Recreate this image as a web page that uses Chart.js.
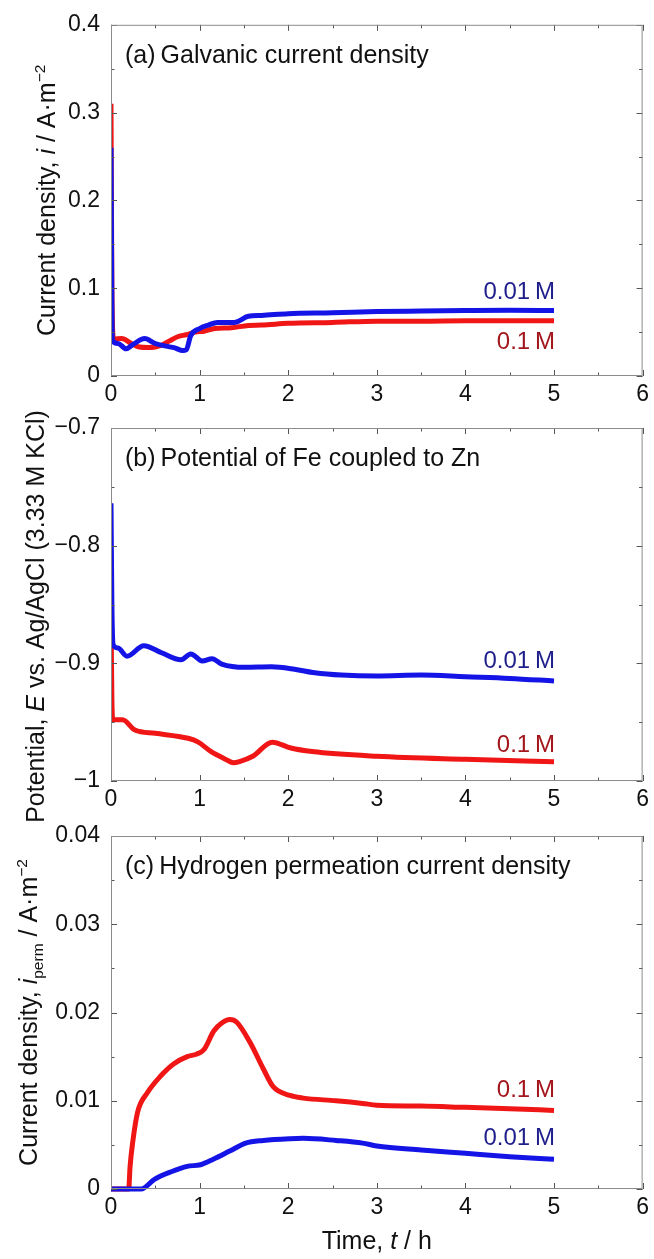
<!DOCTYPE html>
<html>
<head>
<meta charset="utf-8">
<script src="https://cdn.jsdelivr.net/npm/chart.js@4.4.0/dist/chart.umd.min.js"></script>
<style>
  html, body { margin: 0; padding: 0; background: #fff; }
  #wrap { position: relative; width: 654px; height: 1259px; }
  #wrap canvas { position: absolute; left: 0; top: 0; }
</style>
</head>
<body>
<div id="wrap">
  <canvas id="chartA" width="654" height="1259"></canvas>
  <canvas id="chartB" width="654" height="1259"></canvas>
  <canvas id="chartC" width="654" height="1259"></canvas>
</div>
<script>
// x axis (time, h)
const xTicks = [0, 1, 2, 3, 4, 5, 6];
const xTickLabels = ['0', '1', '2', '3', '4', '5', '6'];

// (a) galvanic current density, A/m2
const yTicksA = [0, 0.1, 0.2, 0.3, 0.4];
const yTickLabelsA = ['0', '0.1', '0.2', '0.3', '0.4'];
const tA01 = [0, 0.01, 0.02, 0.08, 0.17, 0.25, 0.38, 0.5, 0.62, 0.72, 0.81, 0.85, 0.9, 1.0, 1.1, 1.2, 1.39, 1.55, 1.7, 2.0, 2.5, 3.0, 3.5, 4.0, 4.5, 5.0];
const iA01 = [0.26, 0.08, 0.04, 0.037, 0.031, 0.036, 0.0426, 0.037, 0.034, 0.032, 0.029, 0.030, 0.046, 0.054, 0.058, 0.061, 0.061, 0.068, 0.069, 0.071, 0.072, 0.0734, 0.074, 0.0745, 0.0748, 0.0746];
const tA1 = [0, 0.01, 0.03, 0.12, 0.23, 0.32, 0.42, 0.5, 0.57, 0.66, 0.76, 0.85, 0.95, 1.05, 1.17, 1.36, 1.55, 1.7, 2.0, 2.5, 3.0, 3.5, 4.0, 4.5, 5.0];
const iA1 = [0.31, 0.1, 0.042, 0.0426, 0.037, 0.033, 0.0324, 0.033, 0.035, 0.040, 0.045, 0.047, 0.050, 0.051, 0.054, 0.055, 0.0576, 0.058, 0.060, 0.061, 0.0625, 0.0625, 0.063, 0.0628, 0.063];

// (b) potential of Fe coupled to Zn, V vs Ag/AgCl
const yTicksB = [-1, -0.9, -0.8, -0.7];
const yTickLabelsB = ['\u22121', '\u22120.9', '\u22120.8', '\u22120.7'];
const tB01 = [0, 0.01, 0.026, 0.08, 0.18, 0.37, 0.57, 0.79, 0.9, 1.03, 1.14, 1.25, 1.51, 1.81, 2.07, 2.3, 2.6, 3.0, 3.5, 4.0, 4.5, 5.0];
const eB01 = [-0.764, -0.85, -0.8845, -0.887, -0.894, -0.885, -0.891, -0.897, -0.892, -0.898, -0.896, -0.9006, -0.9034, -0.903, -0.905, -0.908, -0.910, -0.9108, -0.910, -0.9114, -0.9128, -0.915];
const tB1 = [0, 0.01, 0.02, 0.13, 0.27, 0.5, 0.87, 0.98, 1.13, 1.28, 1.38, 1.45, 1.6, 1.82, 2.03, 2.27, 3.0, 4.0, 5.0];
const eB1 = [-0.8575, -0.93, -0.948, -0.948, -0.9567, -0.9595, -0.9637, -0.9667, -0.975, -0.981, -0.9845, -0.9835, -0.979, -0.967, -0.972, -0.975, -0.979, -0.9816, -0.9836];

// (c) hydrogen permeation current density, A/m2
const yTicksC = [0, 0.01, 0.02, 0.03, 0.04];
const yTickLabelsC = ['0', '0.01', '0.02', '0.03', '0.04'];
const tC01 = [0, 0.2, 0.34, 0.49, 0.68, 0.86, 1.01, 1.16, 1.34, 1.52, 1.72, 2.02, 2.17, 2.54, 2.84, 3.0, 3.5, 4.0, 4.5, 5.0];
const iC01 = [0, 0, 0, 0.0011, 0.00196, 0.00257, 0.00275, 0.0034, 0.0043, 0.0052, 0.0055, 0.0057, 0.00574, 0.0055, 0.0052, 0.00487, 0.00442, 0.00404, 0.00366, 0.00336];
const tC1 = [0, 0.2, 0.215, 0.245, 0.3, 0.41, 0.56, 0.71, 0.86, 0.97, 1.05, 1.16, 1.25, 1.34, 1.42, 1.57, 1.72, 1.83, 2.02, 2.17, 2.54, 2.84, 3.0, 3.5, 4.0, 4.5, 5.0];
const iC1 = [0, 0, 0.0025, 0.0053, 0.0087, 0.0109, 0.0128, 0.0142, 0.0150, 0.0153, 0.0158, 0.0179, 0.0188, 0.0192, 0.0189, 0.0166, 0.0136, 0.0116, 0.0106, 0.0103, 0.0100, 0.0097, 0.0095, 0.0094, 0.00925, 0.0091, 0.0089];

const FONT = '"Liberation Sans", Arial, Helvetica, sans-serif';
const RED = '#f01616';
const BLUE = '#1414e6';
const RED_TXT = '#a3161c';
const BLUE_TXT = '#1f1f8c';

function pts(ts, vs) {
  return ts.map((t, i) => ({ x: t, y: vs[i] }));
}

// draws text made of runs (italic / superscript / subscript)
function richText(ctx, segs, x, y, size, align) {
  let w = 0;
  const parts = segs.map(s => {
    const fs = (s.sup || s.sub) ? size * 0.62 : size;
    const f = (s.it ? 'italic ' : '') + fs + 'px ' + FONT;
    ctx.font = f;
    const pw = ctx.measureText(s.t).width;
    w += pw;
    return { t: s.t, f, pw, dy: s.sup ? -size * 0.42 : s.sub ? size * 0.24 : 0 };
  });
  let cx = align === 'center' ? x - w / 2 : align === 'right' ? x - w : x;
  parts.forEach(p => {
    ctx.font = p.f;
    ctx.fillText(p.t, cx, y + p.dy);
    cx += p.pw;
  });
}

const deco = {
  id: 'deco',
  afterDraw(chart, args, o) {
    const { ctx, chartArea: a, scales: { x, y } } = chart;
    ctx.save();

    // inward ticks on all four sides
    ctx.strokeStyle = '#555';
    ctx.lineWidth = 1;
    ctx.beginPath();
    const xs = [];
    xTicks.forEach((v, i) => {
      xs.push([v, 6]);
      if (i < xTicks.length - 1) xs.push([(v + xTicks[i + 1]) / 2, 3.5]);
    });
    xs.forEach(([v, len]) => {
      const px = Math.round(x.getPixelForValue(v)) + 0.5;
      ctx.moveTo(px, a.bottom); ctx.lineTo(px, a.bottom - len);
      ctx.moveTo(px, a.top); ctx.lineTo(px, a.top + len);
    });
    const yv = o.yTicks;
    const ys = [];
    yv.forEach((v, i) => {
      ys.push([v, 6]);
      if (i < yv.length - 1) ys.push([(v + yv[i + 1]) / 2, 3.5]);
    });
    ys.forEach(([v, len]) => {
      const py = Math.round(y.getPixelForValue(v)) + 0.5;
      ctx.moveTo(a.left, py); ctx.lineTo(a.left + len, py);
      ctx.moveTo(a.right, py); ctx.lineTo(a.right - len, py);
    });
    ctx.stroke();

    // frame
    ctx.strokeStyle = '#8c8c8c';
    ctx.strokeRect(a.left + 0.5, a.top + 0.5, a.width - 1, a.height - 1);

    // panel label
    ctx.fillStyle = '#111';
    ctx.textBaseline = 'middle';
    richText(ctx, o.label, a.left + 14, a.top + 31, 25, 'left');

    // series labels
    o.notes.forEach(n => {
      ctx.fillStyle = n.color;
      richText(ctx, [{ t: n.text }], x.getPixelForValue(5) + 1, y.getPixelForValue(n.y), 24, 'right');
    });

    // y axis title
    ctx.fillStyle = '#111';
    ctx.textBaseline = 'alphabetic';
    ctx.save();
    ctx.translate(o.titleX, (a.top + a.bottom) / 2 + (o.titleShift || 0));
    ctx.rotate(-Math.PI / 2);
    richText(ctx, o.yTitle, 0, 0, 25, 'center');
    ctx.restore();

    // x axis title
    if (o.xTitle) {
      ctx.textBaseline = 'middle';
      richText(ctx, o.xTitle, (a.left + a.right) / 2, a.bottom + 53, 25, 'center');
    }
    ctx.restore();
  }
};

const lineClip = { left: 0, top: 4, right: 4, bottom: 4 };

function makeChart(id, c) {
  return new Chart(document.getElementById(id), {
    type: 'line',
    data: {
      datasets: [
        { label: '0.01 M', data: pts(c.tBlue, c.vBlue), borderColor: BLUE, clip: lineClip },
        { label: '0.1 M', data: pts(c.tRed, c.vRed), borderColor: RED, clip: lineClip }
      ]
    },
    options: {
      responsive: false,
      maintainAspectRatio: false,
      animation: false,
      layout: { padding: { top: c.top, bottom: 1259 - c.bottom - 30, left: 0, right: 6 } },
      elements: {
        point: { radius: 0 },
        line: { borderWidth: 5, cubicInterpolationMode: 'monotone', borderCapStyle: 'butt', borderJoinStyle: 'round' }
      },
      plugins: {
        legend: { display: false },
        tooltip: { enabled: false },
        deco: c.deco
      },
      scales: {
        x: {
          type: 'linear', min: 0, max: 6,
          afterFit(s) { s.height = 30; },
          afterBuildTicks(s) { s.ticks = xTicks.map(v => ({ value: v })); },
          ticks: { padding: 5, color: '#111', font: { family: FONT, size: 23 }, maxRotation: 0, autoSkip: false,
                   callback: (v, i) => xTickLabels[i] },
          grid: { display: false, drawTicks: false },
          border: { display: false }
        },
        y: {
          type: 'linear', min: c.yMin, max: c.yMax,
          afterFit(s) { s.width = 111; },
          afterBuildTicks(s) { s.ticks = c.yTicks.map(v => ({ value: v })); },
          ticks: { padding: 11, color: '#111', font: { family: FONT, size: 23 }, autoSkip: false,
                   callback: (v, i) => c.yLabels[i] },
          grid: { display: false, drawTicks: false },
          border: { display: false }
        }
      }
    },
    plugins: [deco]
  });
}

makeChart('chartA', {
  top: 22, bottom: 376, yMin: 0, yMax: 0.4, yTicks: yTicksA, yLabels: yTickLabelsA,
  tBlue: tA01, vBlue: iA01, tRed: tA1, vRed: iA1,
  deco: {
    yTicks: yTicksA,
    label: [{ t: '(a)' }, { t: '\u2009Galvanic current density' }],
    notes: [{ text: '0.01\u2009M', y: 0.0953, color: BLUE_TXT }, { text: '0.1\u2009M', y: 0.0388, color: RED_TXT }],
    titleX: 55,
    yTitle: [{ t: 'Current density, ' }, { t: 'i', it: true }, { t: ' / A\u00b7m' }, { t: '\u22122', sup: true }]
  }
});

makeChart('chartB', {
  top: 428, bottom: 781, yMin: -1, yMax: -0.7, yTicks: yTicksB, yLabels: yTickLabelsB,
  tBlue: tB01, vBlue: eB01, tRed: tB1, vRed: eB1,
  deco: {
    yTicks: yTicksB,
    label: [{ t: '(b)' }, { t: '\u2009Potential of Fe coupled to Zn' }],
    notes: [{ text: '0.01\u2009M', y: -0.8986, color: BLUE_TXT }, { text: '0.1\u2009M', y: -0.9694, color: RED_TXT }],
    titleX: 44, titleShift: 12,
    yTitle: [{ t: 'Potential, ' }, { t: 'E', it: true }, { t: ' vs. Ag/AgCl (3.33 M KCl)' }]
  }
});

makeChart('chartC', {
  top: 836, bottom: 1189, yMin: 0, yMax: 0.04, yTicks: yTicksC, yLabels: yTickLabelsC,
  tBlue: tC01, vBlue: iC01, tRed: tC1, vRed: iC1,
  deco: {
    yTicks: yTicksC,
    label: [{ t: '(c)' }, { t: '\u2009Hydrogen permeation current density' }],
    notes: [{ text: '0.1\u2009M', y: 0.01122, color: RED_TXT }, { text: '0.01\u2009M', y: 0.00575, color: BLUE_TXT }],
    titleX: 37,
    yTitle: [{ t: 'Current density, ' }, { t: 'i', it: true }, { t: 'perm', sub: true }, { t: ' / A\u00b7m' }, { t: '\u22122', sup: true }],
    xTitle: [{ t: 'Time, ' }, { t: 't', it: true }, { t: ' / h' }]
  }
});
</script>
</body>
</html>
